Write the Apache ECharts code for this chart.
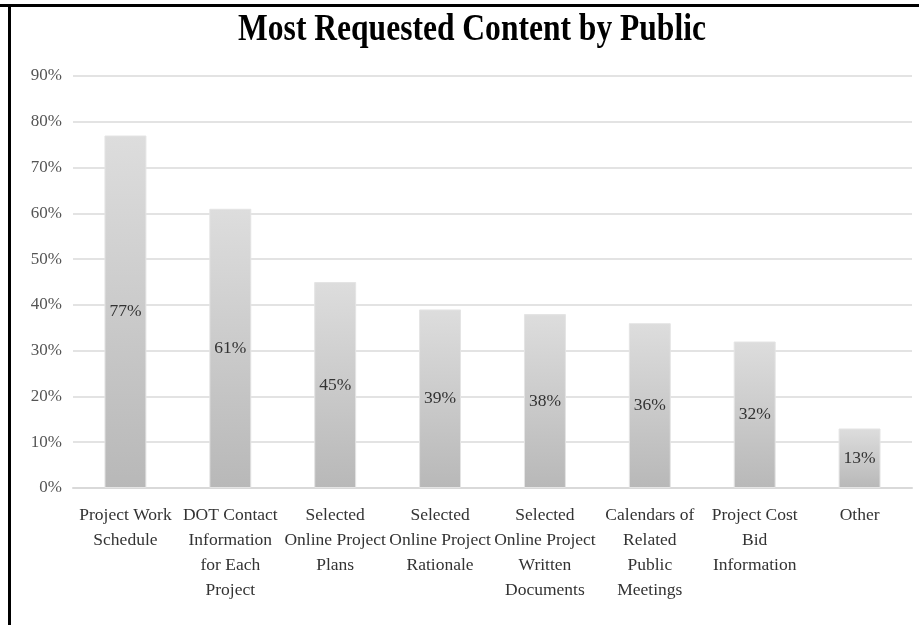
<!DOCTYPE html>
<html>
<head>
<meta charset="utf-8">
<script src="https://cdn.jsdelivr.net/npm/echarts@6/dist/echarts.min.js"></script>
<style>
html,body{margin:0;padding:0;background:#fff;}
#chart{width:919px;height:625px;}
</style>
</head>
<body>
<div id="chart"></div>
<script>
const categories = [
  "Project Work\nSchedule",
  "DOT Contact\nInformation\nfor Each\nProject",
  "Selected\nOnline Project\nPlans",
  "Selected\nOnline Project\nRationale",
  "Selected\nOnline Project\nWritten\nDocuments",
  "Calendars of\nRelated\nPublic\nMeetings",
  "Project Cost\nBid\nInformation",
  "Other"
];
const values = [77, 61, 45, 39, 38, 36, 32, 13];
const titleText = "Most Requested Content by Public";

const chart = echarts.init(document.getElementById('chart'), null, {renderer: 'canvas'});
const serif = "'Liberation Serif', 'DejaVu Serif', serif";
chart.setOption({
  animation: false,
  backgroundColor: '#ffffff',
  grid: {left: 73, right: 7, top: 76, bottom: 137, containLabel: false},
  graphic: [
    {type: 'rect', shape: {x: 0, y: 4, width: 919, height: 3}, style: {fill: '#000'}, silent: true},
    {type: 'rect', shape: {x: 8, y: 4, width: 3, height: 625}, style: {fill: '#000'}, silent: true},
    {type: 'text', x: 472, y: 30, scaleX: 0.83, style: {
      text: titleText, font: "bold 38px " + serif, fill: '#000',
      textAlign: 'center', textVerticalAlign: 'middle'
    }, silent: true}
  ],
  xAxis: {
    type: 'category',
    data: categories,
    axisLine: {show: true, lineStyle: {color: '#d9d9d9', width: 2}},
    axisTick: {show: false},
    axisLabel: {
      interval: 0, margin: 15,
      fontFamily: serif, fontSize: 17.5, color: '#333333', lineHeight: 25
    }
  },
  yAxis: {
    type: 'value',
    min: 0, max: 90, interval: 10,
    axisLine: {show: false},
    axisTick: {show: false},
    splitLine: {lineStyle: {color: '#e3e3e3', width: 2}},
    axisLabel: {
      formatter: v => v + '%', margin: 11,
      fontFamily: serif, fontSize: 17, color: '#555555'
    }
  },
  series: [{
    type: 'bar',
    data: values,
    barWidth: '40%',
    itemStyle: {
      color: new echarts.graphic.LinearGradient(0, 0, 0, 1, [
        {offset: 0, color: '#dddddd'},
        {offset: 1, color: '#b8b8b8'}
      ]),
      borderColor: '#e4e4e4', borderWidth: 1
    },
    label: {
      show: true, position: 'inside',
      formatter: p => p.value + '%',
      fontFamily: serif, fontSize: 17.5, color: '#333333'
    }
  }]
});
</script>
</body>
</html>
